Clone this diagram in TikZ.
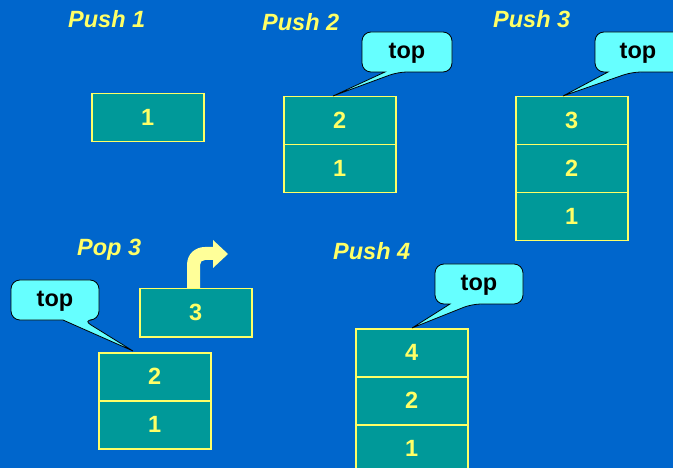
\documentclass[tikz,border=0pt]{standalone}
\usepackage{fontspec}
\setmainfont{Liberation Sans}
\begin{document}
\begin{tikzpicture}[x=1pt,y=-1pt,
  cell/.style={draw=boxyellow,line width=1.5pt,fill=boxteal,text=boxyellow,
    minimum width=112pt,minimum height=48pt,inner sep=0pt,anchor=north west,
    font=\fontsize{23.5}{27}\selectfont\bfseries},
  title/.style={anchor=base west,inner sep=0pt,text=boxyellow,
    font=\fontsize{23.5}{27}\selectfont\bfseries\itshape},
  bubble/.style={draw=black,line width=0.8pt,fill=calloutcyan},
  toptext/.style={inner sep=0pt,font=\fontsize{23.5}{27}\selectfont\bfseries,text=black},
  arrowfill/.style={fill=arrowyellow,draw=none}]
\definecolor{bgblue}{HTML}{0066CC}
\definecolor{boxteal}{HTML}{009999}
\definecolor{boxyellow}{HTML}{FFFF66}
\definecolor{arrowyellow}{HTML}{FFFF99}
\definecolor{calloutcyan}{HTML}{66FFFF}
\path[use as bounding box,fill=bgblue] (0,0) rectangle (673,468);
\clip (0,0) rectangle (673,468);

% titles
\node[title] (t1) at (68,28) {Push 1};
\node[title] (t2) at (262,31) {Push 2};
\node[title] (t3) at (493,28) {Push 3};
\node[title] (t4) at (77,255) {Pop 3};
\node[title] (t5) at (333,260) {Push 4};

% Push 1
\node[cell] (p1a) at (91,93) {1};

% Push 2
\node[cell] (p2b) at (283,96) {2};
\node[cell] (p2a) at (283,144) {1};

% Push 3
\node[cell] (p3c) at (515,96) {3};
\node[cell] (p3b) at (515,144) {2};
\node[cell] (p3a) at (515,192) {1};

% Pop 3
\node[cell] (popped) at (139,288) {3};
\node[cell] (q2) at (98,352) {2};
\node[cell] (q1) at (98,400) {1};

% Push 4
\node[cell] (r4) at (355,328) {4};
\node[cell] (r2) at (355,376) {2};
\node[cell] (r1) at (355,424) {1};

% curved arrow out of popped box
\fill[arrowfill] (187,288) -- (187,265) .. controls (187,254) and (195,247) .. (205,247)
  -- (213,247) -- (213,240) -- (228,254) -- (213,268) -- (213,260) -- (205,260)
  .. controls (202,260) and (200,262) .. (200,265) -- (200,288) -- cycle;

% callouts
\coordinate (tip2) at (333,96);
\draw[bubble] (362,52) [rounded corners=9pt] -- (362,32) -- (452,32) -- (452,72) -- (398,72)
  [sharp corners] -- (tip2) -- (385,72) [rounded corners=9pt] -- (362,72) -- cycle;
\node[toptext] (top2) at (407,53) {top};

\coordinate (tip3) at (563,96);
\draw[bubble] (595,52) [rounded corners=9pt] -- (595,32) -- (684,32) -- (684,72) -- (632,72)
  [sharp corners] -- (tip3) -- (608,72) [rounded corners=9pt] -- (595,72) -- cycle;
\node[toptext] (top3) at (638,53) {top};

\coordinate (tip4) at (133,351);
\draw[bubble] (11,300) [rounded corners=9pt] -- (11,280) -- (99,280) -- (99,320) -- (83,320)
  [sharp corners] -- (tip4) -- (63,320) [rounded corners=9pt] -- (11,320) -- cycle;
\node[toptext] (top4) at (55,301) {top};

\coordinate (tip5) at (412,328);
\draw[bubble] (435,284) [rounded corners=9pt] -- (435,264) -- (523,264) -- (523,304) -- (472,304)
  [sharp corners] -- (tip5) -- (450,304) [rounded corners=9pt] -- (435,304) -- cycle;
\node[toptext] (top5) at (479,285) {top};
\end{tikzpicture}
\end{document}
